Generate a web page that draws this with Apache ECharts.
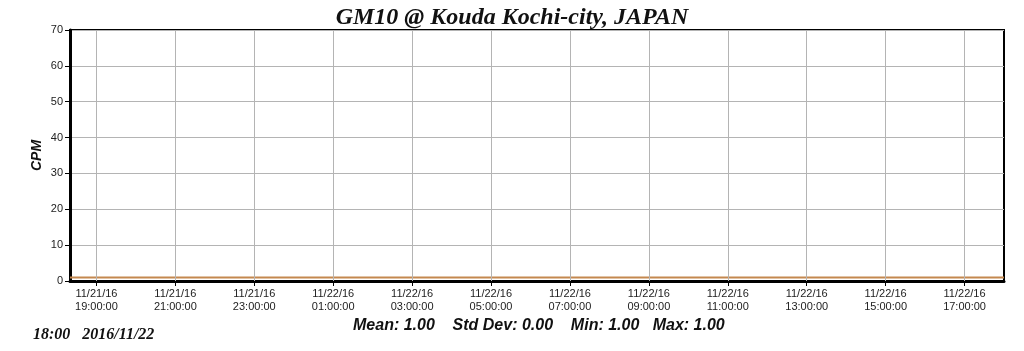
<!DOCTYPE html>
<html>
<head>
<meta charset="utf-8">
<script src="https://cdn.jsdelivr.net/npm/echarts@6/dist/echarts.min.js"></script>
<style>
html,body{margin:0;padding:0;background:#fff;}
#chart{width:1024px;height:351px;}
</style>
</head>
<body>
<div id="chart"></div>
<script>
// Hours since 2016/11/21 00:00
var sampleHours = [18.33, 19, 20, 21, 22, 23, 24, 25, 26, 27, 28, 29, 30, 31, 32, 33, 34, 35, 36, 37, 38, 39, 40, 41, 42];
var cpmValues  = [1, 1, 1, 1, 1, 1, 1, 1, 1, 1, 1, 1, 1, 1, 1, 1, 1, 1, 1, 1, 1, 1, 1, 1, 1];
var xTickHours = [19, 21, 23, 25, 27, 29, 31, 33, 35, 37, 39, 41];
var xTickLabels = [
  "11/21/16\n19:00:00", "11/21/16\n21:00:00", "11/21/16\n23:00:00",
  "11/22/16\n01:00:00", "11/22/16\n03:00:00", "11/22/16\n05:00:00",
  "11/22/16\n07:00:00", "11/22/16\n09:00:00", "11/22/16\n11:00:00",
  "11/22/16\n13:00:00", "11/22/16\n15:00:00", "11/22/16\n17:00:00"
];
var xMin = 18.33, xMax = 42.0;
var yMin = 0, yMax = 70, yStep = 10;
var titleText = "GM10 @ Kouda Kochi-city, JAPAN";
var yName = "CPM";
var stampText = "18:00   2016/11/22";
var statsText = "Mean: 1.00    Std Dev: 0.00    Min: 1.00   Max: 1.00";

var chart = echarts.init(document.getElementById('chart'), null, {renderer: 'canvas'});
var lineData = sampleHours.map(function (h, i) { return [h, cpmValues[i]]; });

chart.setOption({
  animation: false,
  backgroundColor: '#fff',
  title: {
    text: titleText, left: 'center', top: 1,
    textStyle: {fontFamily: 'Liberation Serif', fontStyle: 'italic', fontWeight: 'bold', fontSize: 24, color: '#111'}
  },
  graphic: [
    {type: 'text', left: 33, top: 327, style: {text: stampText, fontFamily: 'Liberation Serif', fontStyle: 'italic', fontWeight: 'bold', fontSize: 16, fill: '#111'}},
    {type: 'text', left: 353, top: 318, style: {text: statsText, fontFamily: 'Liberation Sans', fontStyle: 'italic', fontWeight: 'bold', fontSize: 16, fill: '#111'}}
  ],
  grid: {left: 70, right: 20, top: 30, bottom: 70, show: true, borderColor: '#000', borderWidth: 2, containLabel: false},
  xAxis: {
    type: 'value', min: xMin, max: xMax,
    axisLine: {show: true, onZero: false, lineStyle: {color: '#000', width: 3}},
    axisTick: {show: true, customValues: xTickHours, length: 5, lineStyle: {color: '#000'}},
    axisLabel: {
      customValues: xTickHours, margin: 6,
      formatter: function (v) { var i = xTickHours.indexOf(v); return i >= 0 ? xTickLabels[i] : ''; },
      fontFamily: 'Liberation Sans', fontSize: 11, color: '#222', lineHeight: 13
    },
    splitLine: {show: false}
  },
  yAxis: {
    type: 'value', min: yMin, max: yMax, interval: yStep,
    name: yName, nameLocation: 'middle', nameGap: 26, nameMoveOverlap: false,
    nameTextStyle: {fontFamily: 'Liberation Sans', fontStyle: 'italic', fontWeight: 'bold', fontSize: 14, color: '#111'},
    axisLine: {show: true, lineStyle: {color: '#000', width: 3}},
    axisTick: {show: true, length: 5, lineStyle: {color: '#000'}},
    axisLabel: {fontFamily: 'Liberation Sans', fontSize: 11, color: '#222', margin: 7},
    splitLine: {show: true, lineStyle: {color: '#b4b4b4', width: 1}}
  },
  series: [{
    type: 'line', data: lineData, showSymbol: false, symbol: 'none',
    lineStyle: {color: '#c4884f', width: 2},
    markLine: {
      silent: true, symbol: 'none', label: {show: false},
      lineStyle: {color: '#b4b4b4', width: 1, type: 'solid'},
      data: xTickHours.map(function (h) { return {xAxis: h}; })
    },
    z: 3
  }]
});
</script>
</body>
</html>
